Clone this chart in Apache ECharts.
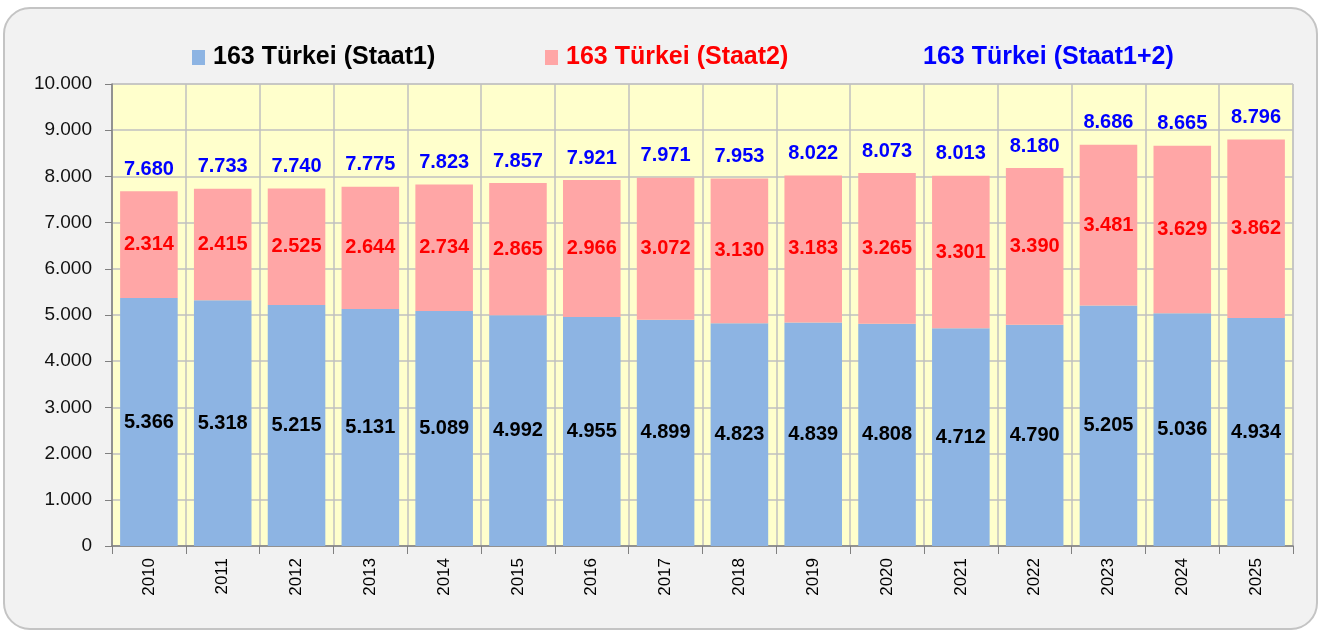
<!DOCTYPE html>
<html>
<head>
<meta charset="utf-8">
<script src="https://cdn.jsdelivr.net/npm/echarts@6/dist/echarts.min.js"></script>
<style>
html,body{margin:0;padding:0;background:#ffffff;}
#chart{width:1320px;height:632px;}
</style>
</head>
<body>
<div id="chart"></div>
<script>
const years = ['2010','2011','2012','2013','2014','2015','2016','2017','2018','2019','2020','2021','2022','2023','2024','2025'];
const staat1 = [5366,5318,5215,5131,5089,4992,4955,4899,4823,4839,4808,4712,4790,5205,5036,4934];
const staat2 = [2314,2415,2525,2644,2734,2865,2966,3072,3130,3183,3265,3301,3390,3481,3629,3862];
const total = [7680,7733,7740,7775,7823,7857,7921,7971,7953,8022,8073,8013,8180,8686,8665,8796];
const yTicks = [0,1000,2000,3000,4000,5000,6000,7000,8000,9000,10000];

const fmt = v => String(v).replace(/\B(?=(\d{3})+(?!\d))/g, '.');
const FONT = '"Liberation Sans", Arial, sans-serif';
const legendText = {fontSize: 25, fontWeight: 'bold', fontFamily: FONT, padding: [0, 0, 0, 3]};

const chart = echarts.init(document.getElementById('chart'));
chart.setOption({
  animation: false,
  textStyle: {fontFamily: FONT},
  graphic: [{
    type: 'rect', z: -10, silent: true,
    shape: {x: 4, y: 8, width: 1313, height: 621, r: 26},
    style: {fill: '#f2f2f2', stroke: '#c4c4c4', lineWidth: 2}
  }],
  legend: [
    {left: 187, top: 40, itemWidth: 13, itemHeight: 15, icon: 'rect', data: [{name: '163 Türkei (Staat1)', textStyle: {color: '#000000'}}],
     textStyle: legendText, selectedMode: false},
    {left: 540, top: 40, itemWidth: 13, itemHeight: 15, icon: 'rect', data: [{name: '163 Türkei (Staat2)', textStyle: {color: '#ff0000'}}],
     textStyle: legendText, selectedMode: false},
    {left: 897, top: 40, itemWidth: 13, itemHeight: 15, data: [{name: '163 Türkei (Staat1+2)', icon: 'none', textStyle: {color: '#0000ff'}}],
     textStyle: legendText, selectedMode: false}
  ],
  grid: {left: 112, right: 27, top: 84, bottom: 86, show: true, backgroundColor: '#ffffcc', borderColor: '#c0c0c0', borderWidth: 1},
  xAxis: {
    type: 'category', data: years,
    axisLine: {lineStyle: {color: '#808080', width: 1.5}},
    axisTick: {show: true, length: 8, lineStyle: {color: '#808080'}},
    splitLine: {show: true, lineStyle: {color: '#c0c0c0', width: 1.5}},
    axisLabel: {rotate: 90, fontSize: 17, color: '#000', margin: 12, interval: 0}
  },
  yAxis: {
    type: 'value', min: 0, max: 10000, interval: 1000,
    axisLine: {show: true, lineStyle: {color: '#808080', width: 1.5}},
    axisTick: {show: true, length: 7, lineStyle: {color: '#808080'}},
    splitLine: {show: true, lineStyle: {color: '#c0c0c0', width: 1.5}},
    axisLabel: {fontSize: 19, color: '#111', margin: 20, formatter: v => fmt(v)}
  },
  series: [
    {name: '163 Türkei (Staat1)', type: 'bar', stack: 's', data: staat1, barCategoryGap: '22%',
     itemStyle: {color: '#8db4e3'},
     label: {show: true, position: 'inside', color: '#000', fontSize: 20, fontWeight: 'bold', formatter: p => fmt(p.value)}},
    {name: '163 Türkei (Staat2)', type: 'bar', stack: 's', data: staat2,
     itemStyle: {color: '#ffa6a6'},
     label: {show: true, position: 'inside', color: '#ff0000', fontSize: 20, fontWeight: 'bold', formatter: p => fmt(p.value)}},
    {name: '163 Türkei (Staat1+2)', type: 'bar', data: total, barGap: '-100%', z: 1,
     itemStyle: {color: 'rgba(0,0,0,0)'},
     label: {show: true, position: 'top', distance: 12, color: '#0000ff', fontSize: 20, fontWeight: 'bold', formatter: p => fmt(p.value)}}
  ]
});
</script>
</body>
</html>
